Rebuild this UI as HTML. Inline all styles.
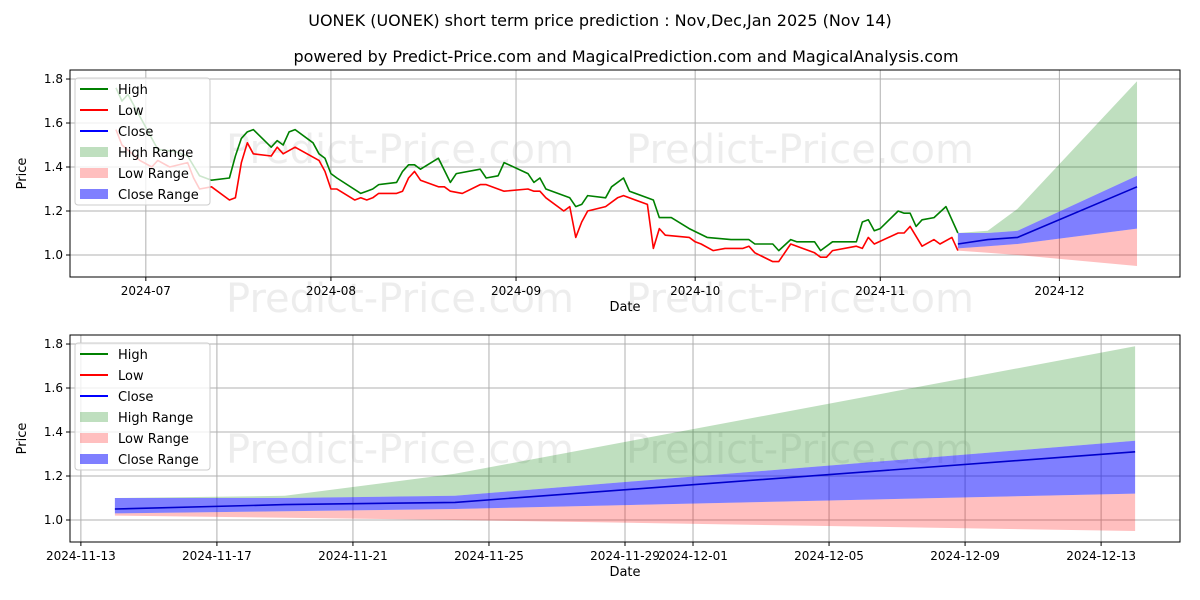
<!DOCTYPE html>
<html><head><meta charset="utf-8"><style>
body{margin:0;background:#fff;}
svg{display:block;font-family:"DejaVu Sans","Liberation Sans",sans-serif;}
</style></head><body>
<svg id="chart" width="1200" height="600" viewBox="0 0 1200 600">
<text x="600" y="26" text-anchor="middle" font-size="16">UONEK (UONEK) short term price prediction : Nov,Dec,Jan 2025 (Nov 14)</text>
<text x="626" y="62" text-anchor="middle" font-size="16">powered by Predict-Price.com and MagicalPrediction.com and MagicalAnalysis.com</text>
<defs>
<clipPath id="clip-top"><rect x="70" y="70" width="1110" height="207"/></clipPath>
<clipPath id="clip-bot"><rect x="70" y="335" width="1110" height="207"/></clipPath>
</defs>
<g id="top"></g>
<g id="bot"></g>
</svg>
<script>
const highDays=[-5,-4,-3,0,2,5,7,9,11,14,15,16,17,18,21,22,23,24,25,28,29,30,31,32,36,37,38,39,42,43,44,45,46,49,51,52,56,57,59,60,64,65,66,67,71,72,73,74,77,78,80,81,85,86,88,91,94,98,101,102,105,106,108,109,112,113,115,119,120,121,122,123,126,127,128,129,130,132,134,136];
const highVals=[1.76,1.70,1.73,1.58,1.48,1.47,1.45,1.36,1.34,1.35,1.45,1.53,1.56,1.57,1.49,1.52,1.50,1.56,1.57,1.51,1.46,1.44,1.37,1.35,1.28,1.29,1.30,1.32,1.33,1.38,1.41,1.41,1.39,1.44,1.33,1.37,1.39,1.35,1.36,1.42,1.37,1.33,1.35,1.30,1.26,1.22,1.23,1.27,1.26,1.31,1.35,1.29,1.25,1.17,1.17,1.12,1.08,1.07,1.07,1.05,1.05,1.02,1.07,1.06,1.06,1.02,1.06,1.06,1.15,1.16,1.11,1.12,1.20,1.19,1.19,1.13,1.16,1.17,1.22,1.10];
const lowDays=[-5,-4,-1,1,2,4,7,8,9,11,14,15,16,17,18,21,22,23,25,29,30,31,32,35,36,37,38,39,42,43,44,45,46,49,50,51,53,56,57,60,64,65,66,67,70,71,72,73,74,77,79,80,84,85,86,87,91,92,93,95,97,100,101,102,105,106,108,112,113,114,115,119,120,121,122,126,127,128,130,132,133,135,136];
const lowVals=[1.57,1.50,1.43,1.40,1.43,1.40,1.42,1.35,1.30,1.31,1.25,1.26,1.42,1.51,1.46,1.45,1.49,1.46,1.49,1.43,1.38,1.30,1.30,1.25,1.26,1.25,1.26,1.28,1.28,1.29,1.35,1.38,1.34,1.31,1.31,1.29,1.28,1.32,1.32,1.29,1.30,1.29,1.29,1.26,1.20,1.22,1.08,1.15,1.20,1.22,1.26,1.27,1.23,1.03,1.12,1.09,1.08,1.06,1.05,1.02,1.03,1.03,1.04,1.01,0.97,0.97,1.05,1.01,0.99,0.99,1.02,1.04,1.03,1.08,1.05,1.10,1.10,1.13,1.04,1.07,1.05,1.08,1.02];
const predDays=[136,141,146,166];
const predHighUp=[1.10,1.11,1.21,1.79];
const predCloseUp=[1.10,1.10,1.11,1.36];
const predClose=[1.05,1.07,1.08,1.31];
const predCloseLo=[1.03,1.04,1.05,1.12];
const predLowLo=[1.02,1.01,1.00,0.95];
const yTicks=[1.0,1.2,1.4,1.6,1.8];
const topTickDays=[0,31,62,92,123,153];
const topTickLabels=["2024-07","2024-08","2024-09","2024-10","2024-11","2024-12"];
const botTickDays=[135,139,143,147,151,153,157,161,165];
const botTickLabels=["2024-11-13","2024-11-17","2024-11-21","2024-11-25","2024-11-29","2024-12-01","2024-12-05","2024-12-09","2024-12-13"];

const NS="http://www.w3.org/2000/svg";
function mk(p,t,a){const e=document.createElementNS(NS,t);for(const k in a)e.setAttribute(k,a[k]);p.appendChild(e);return e;}

function panel(g,top,bottom,d0,d1,ticks,labels,wmY,clip,showHist){
  const L=70,R=1180;
  const x=d=>L+(d-d0)/(d1-d0)*(R-L);
  const y=v=>bottom-(v-0.9)/(1.841-0.9)*(bottom-top);
  for(const wx of [400,800]){
    for(const wy of wmY){
      const w=mk(g,'text',{x:wx,y:wy,'text-anchor':'middle','font-size':40,fill:'#000','fill-opacity':0.07});
      w.textContent='Predict-Price.com';
      
      
    }
  }
  yTicks.forEach(v=>{
    const l=mk(g,'line',{x1:L,x2:R,y1:y(v),y2:y(v),stroke:'#b0b0b0','stroke-width':1});
    
    
    mk(g,'line',{x1:L-4,x2:L,y1:y(v),y2:y(v),stroke:'#000'});
    const t=mk(g,'text',{x:L-7,y:y(v)+4,'text-anchor':'end','font-size':12});
    t.textContent=v.toFixed(1);
    
    
  });
  ticks.forEach((d,i)=>{
    const l=mk(g,'line',{x1:x(d),x2:x(d),y1:top,y2:bottom,stroke:'#b0b0b0','stroke-width':1});
    
    
    mk(g,'line',{x1:x(d),x2:x(d),y1:bottom,y2:bottom+4,stroke:'#000'});
    const t=mk(g,'text',{x:x(d),y:bottom+18,'text-anchor':'middle','font-size':12});
    t.textContent=labels[i];
    
    
  });
  const cg=mk(g,'g',{'clip-path':'url(#'+clip+')'});
  function band(up,lo,col,op,name){
    let pts=predDays.map((d,i)=>x(d)+','+y(up[i]));
    pts=pts.concat(predDays.map((d,i)=>x(d)+','+y(lo[i])).reverse());
    const p=mk(cg,'polygon',{points:pts.join(' '),fill:col,'fill-opacity':op});
    
    
  }
  band(predHighUp,predCloseUp,'#008000',0.25,'high-range-band');
  band(predCloseLo,predLowLo,'#ff0000',0.25,'low-range-band');
  band(predCloseUp,predCloseLo,'#0000ff',0.5,'close-range-band');
  function line(ds,vs,col,name){
    const p=mk(cg,'polyline',{points:ds.map((d,i)=>x(d)+','+y(vs[i])).join(' '),fill:'none',stroke:col,'stroke-width':1.6,'stroke-linejoin':'round'});
    
    
  }
  if(showHist){
    line(highDays,highVals,'#008000','high-line');
    line(lowDays,lowVals,'#ff0000','low-line');
  }
  line(predDays,predClose,'#0000cc','close-line');
  const f=mk(g,'rect',{x:L,y:top,width:R-L,height:bottom-top,fill:'none',stroke:'#000','stroke-width':1});
  
  
  const xl=mk(g,'text',{x:(L+R)/2,y:bottom+34,'text-anchor':'middle','font-size':13});
  xl.textContent='Date';
  
  
  const yl=mk(g,'text',{x:0,y:0,'text-anchor':'middle','font-size':13,transform:`translate(26,${(top+bottom)/2}) rotate(-90)`});
  yl.textContent='Price';
  
  
  const lg=mk(g,'g',{});
  
  
  mk(lg,'rect',{x:75,y:top+8,width:135,height:127,rx:3,fill:'#fff','fill-opacity':0.8,stroke:'#ccc'});
  const ents=[['High','#008000','l',1],['Low','#ff0000','l',1],['Close','#0000ff','l',1],['High Range','#008000','r',0.25],['Low Range','#ff0000','r',0.25],['Close Range','#0000ff','r',0.5]];
  ents.forEach((e,i)=>{
    const cy=top+19+i*21;
    if(e[2]=='l') mk(lg,'line',{x1:80,x2:108,y1:cy,y2:cy,stroke:e[1],'stroke-width':2});
    else mk(lg,'rect',{x:80,y:cy-5,width:28,height:10,fill:e[1],'fill-opacity':e[3]});
    const t=mk(lg,'text',{x:118,y:cy+5,'font-size':13});
    t.textContent=e[0];
    
    
  });
}
panel(document.getElementById('top'),70,277,-12.7,173.2,topTickDays,topTickLabels,[163,312],'clip-top',true);
panel(document.getElementById('bot'),335,542,134.68,167.32,botTickDays,botTickLabels,[463],'clip-bot',false);
</script>
</body></html>
